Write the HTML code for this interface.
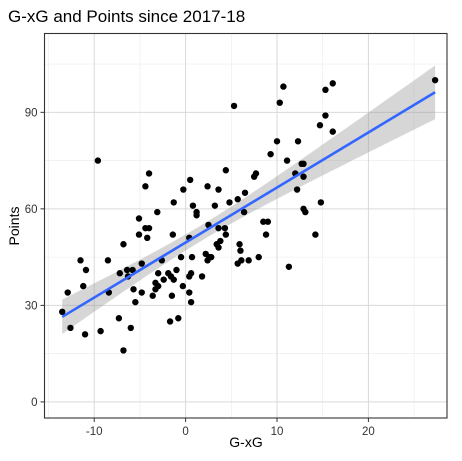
<!DOCTYPE html>
<html><head><meta charset="utf-8"><style>
html,body{margin:0;padding:0;background:#fff;}
svg{display:block;font-family:"Liberation Sans",Arial,sans-serif;}
</style></head><body>
<svg id="chart" width="462" height="461" viewBox="0 0 462 461">
<text x="8" y="22" font-size="17" fill="#000">G-xG and Points since 2017-18</text>
<g id="grid"></g>
<g id="band"></g>
<g id="pts"></g>
<g id="fit"></g>
<rect x="44.5" y="33.5" width="402.5" height="384.5" fill="none" stroke="#333" stroke-width="1.1"/>
<g id="axes"></g>
<text x="246" y="447" font-size="14" text-anchor="middle" fill="#000">G-xG</text>
<text x="19" y="226" font-size="14" text-anchor="middle" fill="#000" transform="rotate(-90 19 226)">Points</text>
</svg>
<script>
const xVals=[-9.6,-4.0,-4.4,0.5,-0.25,2.4,3.6,4.4,-1.3,0.8,1.2,1.2,3.2,4.8,5.7,-3.1,-5.1,-4.4,-4.0,-5.1,-4.2,-1.4,0.4,2.5,3.6,4.3,4.4,3.8,3.4,3.6,-6.8,-11.5,-10.9,-8.5,-7.2,-6.4,-5.8,-6.3,-4.8,-2.6,-0.5,0.7,2.2,2.6,2.4,-11.2,-12.9,-13.5,-12.6,-11.0,-9.3,-8.4,-7.3,-6.0,-6.8,-5.7,-5.5,-4.8,-3.0,-3.3,-3.0,-3.3,-3.6,-2.4,-1.9,-1.6,-1.3,-1.0,-0.3,-1.5,-1.7,-0.8,0.4,0.6,0.4,0.6,1.8,5.7,6.1,5.9,6.0,6.5,27.3,10.7,16.1,15.3,5.3,10.3,15.3,14.7,16.1,10.0,12.3,9.3,11.1,12.7,12.9,12.0,12.9,12.2,7.7,7.5,14.8,12.9,13.1,8.5,9.0,6.4,8.8,14.2,6.9,8.0,11.3,2.8];
const yVals=[75,71,67,69,66,67,66,72,62,61,59,58,61,62,63,59,57,54,54,52,51,52,51,55,54,54,52,50,49,48,49,44,41,44,40,41,41,39,43,44,45,45,46,45,44,36,34,28,23,21,22,34,26,23,16,35,31,34,40,37,36,35,33,38,40,39,38,41,36,33,25,26,34,31,39,40,39,43,44,49,47,65,100,98,99,97,92,93,89,86,84,81,81,77,75,74,74,71,70,66,71,70,62,60,59,56,56,59,52,52,44,45,42,45];
const xTicks=[-10,0,10,20];
const yTicks=[0,30,60,90];
const X0=-15.44,X1=28.6,Y0=-5,Y1=114.5;
const L=44.5,R=447,T=33.5,B=418;
const sx=v=>L+(v-X0)/(X1-X0)*(R-L);
const sy=v=>B-(v-Y0)/(Y1-Y0)*(B-T);
const NS="http://www.w3.org/2000/svg";
function mk(tag,attrs,parent){const e=document.createElementNS(NS,tag);for(const k in attrs)e.setAttribute(k,attrs[k]);parent.appendChild(e);return e;}
const grid=document.getElementById('grid'),axes=document.getElementById('axes');
// minor grid
for(let i=0;i<xTicks.length;i++){const m=xTicks[i]-5;const l=mk('line',{x1:sx(m),x2:sx(m),y1:T,y2:B,stroke:'#ebebeb','stroke-width':0.6},grid);

}
{const m=xTicks[xTicks.length-1]+5;const l=mk('line',{x1:sx(m),x2:sx(m),y1:T,y2:B,stroke:'#ebebeb','stroke-width':0.6},grid);

}
for(let i=0;i<yTicks.length;i++){const m=yTicks[i]+15;const l=mk('line',{x1:L,x2:R,y1:sy(m),y2:sy(m),stroke:'#ebebeb','stroke-width':0.6},grid);

}
xTicks.forEach(t=>{const l=mk('line',{x1:sx(t),x2:sx(t),y1:T,y2:B,stroke:'#d9d9d9','stroke-width':1},grid);


const tk=mk('line',{x1:sx(t),x2:sx(t),y1:B,y2:B+4,stroke:'#333','stroke-width':1},axes);


const tx=mk('text',{x:sx(t),y:B+17,'font-size':11.5,'text-anchor':'middle',fill:'#333'},axes);tx.textContent=t;

});
yTicks.forEach(t=>{const l=mk('line',{x1:L,x2:R,y1:sy(t),y2:sy(t),stroke:'#d9d9d9','stroke-width':1},grid);


const tk=mk('line',{x1:L-4,x2:L,y1:sy(t),y2:sy(t),stroke:'#333','stroke-width':1},axes);


const tx=mk('text',{x:L-7,y:sy(t)+4,'font-size':11.5,'text-anchor':'end',fill:'#333'},axes);tx.textContent=t;

});
// regression
const n=xVals.length;let mx=0,my=0;for(let i=0;i<n;i++){mx+=xVals[i];my+=yVals[i];}mx/=n;my/=n;
let sxx=0,sxy=0;for(let i=0;i<n;i++){sxx+=(xVals[i]-mx)**2;sxy+=(xVals[i]-mx)*(yVals[i]-my);}
const b=sxy/sxx,a=my-b*mx;let sse=0;for(let i=0;i<n;i++)sse+=(yVals[i]-a-b*xVals[i])**2;
const s=Math.sqrt(sse/(n-2));
const xmin=Math.min(...xVals),xmax=Math.max(...xVals);
let up=[],lo=[];for(let k=0;k<=80;k++){const x=xmin+(xmax-xmin)*k/80;const yh=a+b*x;const se=s*Math.sqrt(1/n+(x-mx)**2/sxx)*1.98;
up.push(sx(x).toFixed(2)+','+sy(yh+se).toFixed(2));lo.unshift(sx(x).toFixed(2)+','+sy(yh-se).toFixed(2));}
const band=mk('polygon',{points:up.concat(lo).join(' '),fill:'#999','fill-opacity':0.4},document.getElementById('band'));


const pg=document.getElementById('pts');
for(let i=0;i<n;i++){const c=mk('circle',{cx:sx(xVals[i]),cy:sy(yVals[i]),r:3.2,fill:'#000'},pg);

}
const ln=mk('line',{x1:sx(xmin),y1:sy(a+b*xmin),x2:sx(xmax),y2:sy(a+b*xmax),stroke:'#3366ff','stroke-width':2.6},document.getElementById('fit'));


</script>
</body></html>
